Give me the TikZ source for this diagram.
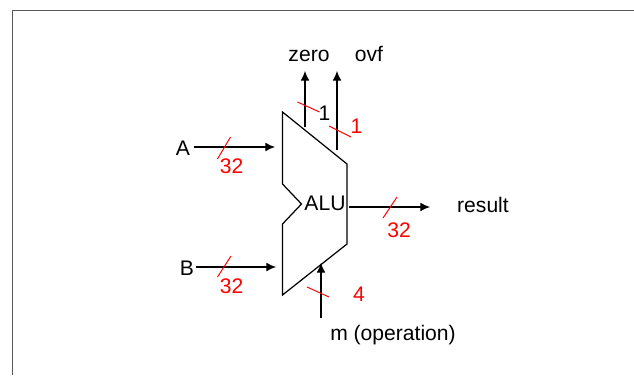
\documentclass[tikz,border=0pt]{standalone}
\usepackage{fontspec}
\setmainfont{Liberation Sans}
\usetikzlibrary{arrows.meta}
\tikzset{
  wire/.style={-{Latex[length=5.5pt,width=5pt]}, line width=0.6pt},
  slash/.style={red, line width=0.55pt},
  lbl/.style={inner sep=0pt, font=\fontsize{12}{14}\selectfont},
  width/.style={lbl, red}
}
\begin{document}
\begin{tikzpicture}
      \useasboundingbox (0,0) rectangle (12.68,7.5);
      % frame
      \draw[line width=0.8pt, black!65] (0.25,0) -- (0.25,7.29) -- (12.68,7.29);

      % alu body
      \draw[line width=0.7pt] (5.65,5.26) -- (6.94,4.22) -- (6.94,2.62) -- (5.65,1.6)
        -- (5.65,3.02) -- (6.03,3.42) -- (5.65,3.82) -- cycle;
      \node[lbl] (alu) at (6.5,3.44) {ALU};

      % ends of the connectors
      \coordinate (ain) at (3.88,4.56);
      \coordinate (aout) at (5.5,4.56);
      \coordinate (bin) at (3.92,2.16);
      \coordinate (bout) at (5.52,2.16);
      \coordinate (rin) at (6.98,3.36);
      \coordinate (rout) at (8.6,3.36);
      \coordinate (min) at (6.42,1.14);
      \coordinate (mout) at (6.42,2.24);
      \coordinate (zin) at (6.1,4.96);
      \coordinate (zout) at (6.1,6.08);
      \coordinate (oin) at (6.74,4.5);
      \coordinate (oout) at (6.74,6.08);

      \draw[wire] (ain) -- (aout);
      \draw[wire] (bin) -- (bout);
      \draw[wire] (rin) -- (rout);
      \draw[wire] (min) -- (mout);
      \draw[wire] (zin) -- (zout);
      \draw[wire] (oin) -- (oout);

      % bus marks
      \draw[slash] (4.35,4.32) -- (4.61,4.76);
      \draw[slash] (4.35,1.96) -- (4.62,2.38);
      \draw[slash] (7.66,3.14) -- (7.94,3.56);
      \draw[slash] (6.14,1.76) -- (6.58,1.56);
      \draw[slash] (5.95,5.46) -- (6.39,5.26);
      \draw[slash] (6.58,4.98) -- (7.02,4.76);

      \node[lbl] (a) at (3.66,4.54) {A};
      \node[lbl] (b) at (3.74,2.14) {B};
      \node[lbl] (zero) at (6.18,6.38) {zero};
      \node[lbl] (ovf) at (7.38,6.42) {ovf};
      \node[lbl] (result) at (9.66,3.4) {result};
      \node[lbl] (op) at (7.86,0.79) {m (operation)};
      \node[lbl] (one) at (6.49,5.24) {1};

      \node[width] (wa) at (4.63,4.18) {32};
      \node[width] (wb) at (4.63,1.78) {32};
      \node[width] (wr) at (7.98,2.9) {32};
      \node[width] (wm) at (7.18,1.62) {4};
      \node[width] (wo) at (7.13,4.98) {1};
    \end{tikzpicture}
\end{document}
